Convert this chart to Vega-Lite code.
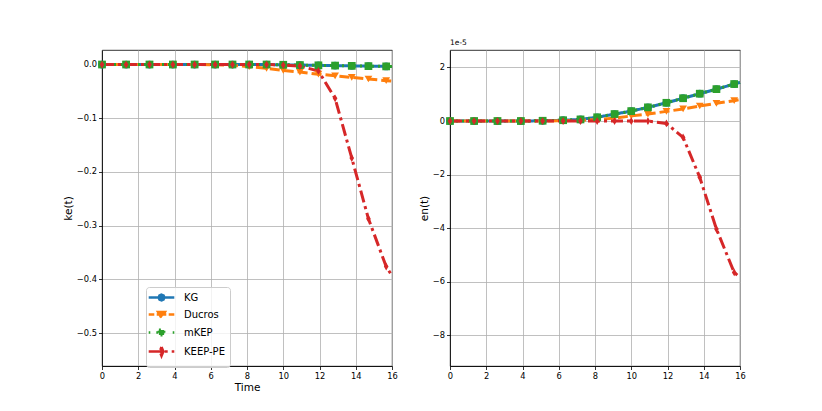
{
  "$schema": "https://vega.github.io/schema/vega-lite/v6.json",
  "background": "white",
  "padding": {"left": 62, "top": 38, "right": 5, "bottom": 5},
  "spacing": 19,
  "resolve": {"scale": {"color": "independent", "strokeDash": "independent"}, "legend": {"color": "independent", "strokeDash": "independent"}},
  "datasets": {
    "ke": [
      {"t": 0, "method": "KG", "ke": 0}, {"t": 1.33, "method": "KG", "ke": 0}, {"t": 2.62, "method": "KG", "ke": 0},
      {"t": 3.91, "method": "KG", "ke": 0}, {"t": 5.11, "method": "KG", "ke": 0}, {"t": 6.24, "method": "KG", "ke": 0},
      {"t": 7.2, "method": "KG", "ke": 0}, {"t": 8.12, "method": "KG", "ke": 0}, {"t": 9.08, "method": "KG", "ke": 0},
      {"t": 10.0, "method": "KG", "ke": -0.0005}, {"t": 10.92, "method": "KG", "ke": -0.001}, {"t": 11.94, "method": "KG", "ke": -0.0015},
      {"t": 12.86, "method": "KG", "ke": -0.002}, {"t": 13.78, "method": "KG", "ke": -0.0025}, {"t": 14.7, "method": "KG", "ke": -0.003},
      {"t": 15.68, "method": "KG", "ke": -0.0035}, {"t": 16, "method": "KG", "ke": -0.0037},
      {"t": 0, "method": "Ducros", "ke": 0}, {"t": 1.33, "method": "Ducros", "ke": 0}, {"t": 2.62, "method": "Ducros", "ke": 0},
      {"t": 3.91, "method": "Ducros", "ke": 0}, {"t": 5.11, "method": "Ducros", "ke": 0}, {"t": 6.24, "method": "Ducros", "ke": -0.0005},
      {"t": 7.2, "method": "Ducros", "ke": -0.0015}, {"t": 8.12, "method": "Ducros", "ke": -0.004}, {"t": 9.08, "method": "Ducros", "ke": -0.007},
      {"t": 10.0, "method": "Ducros", "ke": -0.011}, {"t": 10.92, "method": "Ducros", "ke": -0.014}, {"t": 11.94, "method": "Ducros", "ke": -0.018},
      {"t": 12.86, "method": "Ducros", "ke": -0.021}, {"t": 13.78, "method": "Ducros", "ke": -0.024}, {"t": 14.7, "method": "Ducros", "ke": -0.027},
      {"t": 15.68, "method": "Ducros", "ke": -0.030}, {"t": 16, "method": "Ducros", "ke": -0.031},
      {"t": 0, "method": "mKEP", "ke": 0}, {"t": 1.33, "method": "mKEP", "ke": 0}, {"t": 2.62, "method": "mKEP", "ke": 0},
      {"t": 3.91, "method": "mKEP", "ke": 0}, {"t": 5.11, "method": "mKEP", "ke": 0}, {"t": 6.24, "method": "mKEP", "ke": 0},
      {"t": 7.2, "method": "mKEP", "ke": 0}, {"t": 8.12, "method": "mKEP", "ke": 0}, {"t": 9.08, "method": "mKEP", "ke": 0},
      {"t": 10.0, "method": "mKEP", "ke": -0.0005}, {"t": 10.92, "method": "mKEP", "ke": -0.001}, {"t": 11.94, "method": "mKEP", "ke": -0.0015},
      {"t": 12.86, "method": "mKEP", "ke": -0.002}, {"t": 13.78, "method": "mKEP", "ke": -0.0025}, {"t": 14.7, "method": "mKEP", "ke": -0.003},
      {"t": 15.68, "method": "mKEP", "ke": -0.0035}, {"t": 16, "method": "mKEP", "ke": -0.0037},
      {"t": 0, "method": "KEEP-PE", "ke": 0}, {"t": 1.33, "method": "KEEP-PE", "ke": 0}, {"t": 2.62, "method": "KEEP-PE", "ke": 0},
      {"t": 3.91, "method": "KEEP-PE", "ke": 0}, {"t": 5.11, "method": "KEEP-PE", "ke": 0}, {"t": 6.24, "method": "KEEP-PE", "ke": 0},
      {"t": 7.2, "method": "KEEP-PE", "ke": 0}, {"t": 8.12, "method": "KEEP-PE", "ke": 0}, {"t": 9.08, "method": "KEEP-PE", "ke": 0},
      {"t": 10.0, "method": "KEEP-PE", "ke": -0.001}, {"t": 10.92, "method": "KEEP-PE", "ke": -0.003}, {"t": 11.94, "method": "KEEP-PE", "ke": -0.012},
      {"t": 12.86, "method": "KEEP-PE", "ke": -0.063}, {"t": 13.78, "method": "KEEP-PE", "ke": -0.174}, {"t": 14.7, "method": "KEEP-PE", "ke": -0.287},
      {"t": 15.68, "method": "KEEP-PE", "ke": -0.376}, {"t": 16, "method": "KEEP-PE", "ke": -0.393}
    ],
    "en": [
      {"t": 0, "method": "KG", "en": 0}, {"t": 1.33, "method": "KG", "en": 0}, {"t": 2.62, "method": "KG", "en": 0},
      {"t": 3.91, "method": "KG", "en": 0}, {"t": 5.11, "method": "KG", "en": 0.01e-5}, {"t": 6.24, "method": "KG", "en": 0.03e-5},
      {"t": 7.2, "method": "KG", "en": 0.06e-5}, {"t": 8.12, "method": "KG", "en": 0.14e-5}, {"t": 9.08, "method": "KG", "en": 0.26e-5},
      {"t": 10.0, "method": "KG", "en": 0.37e-5}, {"t": 10.92, "method": "KG", "en": 0.51e-5}, {"t": 11.94, "method": "KG", "en": 0.68e-5},
      {"t": 12.86, "method": "KG", "en": 0.85e-5}, {"t": 13.78, "method": "KG", "en": 1.02e-5}, {"t": 14.7, "method": "KG", "en": 1.19e-5},
      {"t": 15.68, "method": "KG", "en": 1.38e-5}, {"t": 16, "method": "KG", "en": 1.44e-5},
      {"t": 0, "method": "Ducros", "en": 0}, {"t": 1.33, "method": "Ducros", "en": 0}, {"t": 2.62, "method": "Ducros", "en": 0},
      {"t": 3.91, "method": "Ducros", "en": 0}, {"t": 5.11, "method": "Ducros", "en": 0}, {"t": 6.24, "method": "Ducros", "en": 0.01e-5},
      {"t": 7.2, "method": "Ducros", "en": 0.03e-5}, {"t": 8.12, "method": "Ducros", "en": 0.06e-5}, {"t": 9.08, "method": "Ducros", "en": 0.11e-5},
      {"t": 10.0, "method": "Ducros", "en": 0.19e-5}, {"t": 10.92, "method": "Ducros", "en": 0.26e-5}, {"t": 11.94, "method": "Ducros", "en": 0.36e-5},
      {"t": 12.86, "method": "Ducros", "en": 0.45e-5}, {"t": 13.78, "method": "Ducros", "en": 0.56e-5}, {"t": 14.7, "method": "Ducros", "en": 0.66e-5},
      {"t": 15.68, "method": "Ducros", "en": 0.76e-5}, {"t": 16, "method": "Ducros", "en": 0.8e-5},
      {"t": 0, "method": "mKEP", "en": 0}, {"t": 1.33, "method": "mKEP", "en": 0}, {"t": 2.62, "method": "mKEP", "en": 0},
      {"t": 3.91, "method": "mKEP", "en": 0}, {"t": 5.11, "method": "mKEP", "en": 0.01e-5}, {"t": 6.24, "method": "mKEP", "en": 0.03e-5},
      {"t": 7.2, "method": "mKEP", "en": 0.06e-5}, {"t": 8.12, "method": "mKEP", "en": 0.14e-5}, {"t": 9.08, "method": "mKEP", "en": 0.26e-5},
      {"t": 10.0, "method": "mKEP", "en": 0.37e-5}, {"t": 10.92, "method": "mKEP", "en": 0.51e-5}, {"t": 11.94, "method": "mKEP", "en": 0.68e-5},
      {"t": 12.86, "method": "mKEP", "en": 0.85e-5}, {"t": 13.78, "method": "mKEP", "en": 1.02e-5}, {"t": 14.7, "method": "mKEP", "en": 1.19e-5},
      {"t": 15.68, "method": "mKEP", "en": 1.38e-5}, {"t": 16, "method": "mKEP", "en": 1.44e-5},
      {"t": 0, "method": "KEEP-PE", "en": 0}, {"t": 1.33, "method": "KEEP-PE", "en": 0}, {"t": 2.62, "method": "KEEP-PE", "en": 0},
      {"t": 3.91, "method": "KEEP-PE", "en": 0}, {"t": 5.11, "method": "KEEP-PE", "en": 0}, {"t": 6.24, "method": "KEEP-PE", "en": 0},
      {"t": 7.2, "method": "KEEP-PE", "en": 0}, {"t": 8.12, "method": "KEEP-PE", "en": 0}, {"t": 9.08, "method": "KEEP-PE", "en": 0},
      {"t": 10.0, "method": "KEEP-PE", "en": 0}, {"t": 10.92, "method": "KEEP-PE", "en": 0}, {"t": 11.94, "method": "KEEP-PE", "en": -0.09e-5},
      {"t": 12.86, "method": "KEEP-PE", "en": -0.61e-5}, {"t": 13.78, "method": "KEEP-PE", "en": -2.1e-5}, {"t": 14.7, "method": "KEEP-PE", "en": -4.03e-5},
      {"t": 15.68, "method": "KEEP-PE", "en": -5.65e-5}, {"t": 16, "method": "KEEP-PE", "en": -5.84e-5}
    ]
  },
  "hconcat": [
    {
      "width": 290,
      "height": 316,
      "data": {"name": "ke"},
      "encoding": {
        "x": {
          "field": "t", "type": "quantitative", "title": "Time",
          "scale": {"domain": [0, 16], "nice": false},
          "axis": {"values": [0, 2, 4, 6, 8, 10, 12, 14, 16], "labelOverlap": false}
        },
        "y": {
          "field": "ke", "type": "quantitative", "title": "ke(t)",
          "scale": {"domain": [-0.561, 0.027], "nice": false, "zero": false},
          "axis": {"values": [-0.5, -0.4, -0.3, -0.2, -0.1, 0], "format": ".1f", "labelOverlap": false}
        },
        "color": {
          "field": "method", "type": "nominal",
          "scale": {"domain": ["KG", "Ducros", "mKEP", "KEEP-PE"], "range": ["#1f77b4", "#ff7f0e", "#2ca02c", "#d62728"]},
          "legend": {
            "orient": "none", "legendX": 44, "legendY": 237, "title": null,
            "encode": {
              "symbols": {
                "update": {
                  "shape": {"signal": "datum.value === 'KG' ? 'M-3.2,0L3.2,0M0.7,0L0.5,0.5L0,0.7L-0.5,0.5L-0.7,0L-0.5,-0.5L0,-0.7L0.5,-0.5Z' : datum.value === 'Ducros' ? 'M-3.2,0L-1.8,0M-1.2,0L1.2,0M1.8,0L3.2,0M-0.85,-0.6L0.85,-0.6L0,0.85Z' : datum.value === 'mKEP' ? 'M-3.2,0L-2.8,0M-1.3,0L1.3,0M2.8,0L3.2,0M-0.65,-0.65L0.65,-0.65L0.65,0.65L-0.65,0.65Z' : 'M-3.2,0L3.2,0M0,-1.1L0.45,0L0,1.1L-0.45,0Z'"},
                  "stroke": {"signal": "datum.value === 'KG' ? '#1f77b4' : datum.value === 'Ducros' ? '#ff7f0e' : datum.value === 'mKEP' ? '#2ca02c' : '#d62728'"},
                  "fill": {"signal": "datum.value === 'KG' ? '#1f77b4' : datum.value === 'Ducros' ? '#ff7f0e' : datum.value === 'mKEP' ? '#2ca02c' : '#d62728'"},
                  "strokeWidth": {"value": 2.6},
                  "opacity": {"value": 1},
                  "fillOpacity": {"value": 1},
                  "strokeOpacity": {"value": 1}
                }
              }
            }
          }
        }
      },
      "layer": [
        {
          "mark": {"type": "line", "strokeWidth": 3},
          "encoding": {
            "strokeDash": {
              "field": "method", "type": "nominal",
              "scale": {"domain": ["KG", "Ducros", "mKEP", "KEEP-PE"], "range": [[1, 0], [10, 4], [2, 4], [12, 4, 3, 4]]},
              "legend": null
            }
          }
        },
        {
          "transform": [{"filter": "datum.method === 'KG' && datum.t < 16"}],
          "mark": {"type": "point", "shape": "circle", "filled": true, "size": 60, "opacity": 1}
        },
        {
          "transform": [{"filter": "datum.method === 'Ducros' && datum.t < 16"}],
          "mark": {"type": "point", "shape": "triangle-down", "filled": true, "size": 60, "opacity": 1}
        },
        {
          "transform": [{"filter": "datum.method === 'mKEP' && datum.t < 16"}],
          "mark": {"type": "point", "shape": "square", "filled": true, "size": 60, "opacity": 1}
        },
        {
          "transform": [{"filter": "datum.method === 'KEEP-PE' && datum.t < 16"}],
          "mark": {"type": "point", "shape": "M0,-1L0.6,0L0,1L-0.6,0Z", "filled": true, "size": 60, "opacity": 1}
        }
      ]
    },
    {
      "width": 290,
      "height": 316,
      "layer": [
        {
          "data": {"name": "en"},
          "encoding": {
            "x": {
              "field": "t", "type": "quantitative", "title": null,
              "scale": {"domain": [0, 16], "nice": false},
              "axis": {"values": [0, 2, 4, 6, 8, 10, 12, 14, 16], "labelOverlap": false}
            },
            "y": {
              "field": "en", "type": "quantitative", "title": "en(t)",
              "scale": {"domain": [-9.14e-5, 2.65e-5], "nice": false, "zero": false},
              "axis": {"values": [-8e-5, -6e-5, -4e-5, -2e-5, 0, 2e-5], "labelExpr": "format(datum.value * 100000, '.0f')", "labelOverlap": false}
            },
            "color": {
              "field": "method", "type": "nominal",
              "scale": {"domain": ["KG", "Ducros", "mKEP", "KEEP-PE"], "range": ["#1f77b4", "#ff7f0e", "#2ca02c", "#d62728"]},
              "legend": null
            }
          },
          "layer": [
            {
              "mark": {"type": "line", "strokeWidth": 3},
              "encoding": {
                "strokeDash": {
                  "field": "method", "type": "nominal",
                  "scale": {"domain": ["KG", "Ducros", "mKEP", "KEEP-PE"], "range": [[1, 0], [10, 4], [2, 4], [12, 4, 3, 4]]},
                  "legend": null
                }
              }
            },
            {
              "transform": [{"filter": "datum.method === 'KG' && datum.t < 16"}],
              "mark": {"type": "point", "shape": "circle", "filled": true, "size": 60, "opacity": 1}
            },
            {
              "transform": [{"filter": "datum.method === 'Ducros' && datum.t < 16"}],
              "mark": {"type": "point", "shape": "triangle-down", "filled": true, "size": 60, "opacity": 1}
            },
            {
              "transform": [{"filter": "datum.method === 'mKEP' && datum.t < 16"}],
              "mark": {"type": "point", "shape": "square", "filled": true, "size": 60, "opacity": 1}
            },
            {
              "transform": [{"filter": "datum.method === 'KEEP-PE' && datum.t < 16"}],
              "mark": {"type": "point", "shape": "M0,-1L0.6,0L0,1L-0.6,0Z", "filled": true, "size": 60, "opacity": 1}
            }
          ]
        },
        {
          "data": {"values": [{}]},
          "mark": {"type": "text", "align": "left", "baseline": "bottom", "dy": -3, "fontSize": 7.5, "font": "DejaVu Sans"},
          "encoding": {
            "x": {
              "datum": 0, "type": "quantitative", "title": null,
              "scale": {"domain": [0, 16], "nice": false},
              "axis": {"values": [0, 2, 4, 6, 8, 10, 12, 14, 16], "labelOverlap": false}
            },
            "y": {
              "datum": 2.65e-5, "type": "quantitative", "title": "en(t)",
              "scale": {"domain": [-9.14e-5, 2.65e-5], "nice": false, "zero": false},
              "axis": {"values": [-8e-5, -6e-5, -4e-5, -2e-5, 0, 2e-5], "labelExpr": "format(datum.value * 100000, '.0f')", "labelOverlap": false}
            },
            "text": {"value": "1e-5"}
          }
        }
      ]
    }
  ],
  "config": {
    "font": "DejaVu Sans",
    "view": {"stroke": "#000000", "strokeWidth": 0.8},
    "axis": {
      "grid": true,
      "gridColor": "#b0b0b0",
      "gridWidth": 0.8,
      "domainColor": "#000000",
      "domainWidth": 0.8,
      "tickColor": "#000000",
      "tickSize": 3.5,
      "tickWidth": 0.8,
      "labelFont": "DejaVu Sans",
      "labelFontSize": 8.3,
      "labelColor": "#000000",
      "labelPadding": 2,
      "labelFlush": false,
      "labelOverlap": false,
      "titleFont": "DejaVu Sans",
      "titleFontSize": 10.5,
      "titleFontWeight": "normal",
      "titleColor": "#000000",
      "titlePadding": 3
    },
    "legend": {
      "labelFont": "DejaVu Sans",
      "labelFontSize": 10,
      "labelColor": "#000000",
      "strokeColor": "#cccccc",
      "fillColor": "rgba(255,255,255,0.8)",
      "cornerRadius": 3,
      "padding": 5,
      "rowPadding": 0,
      "symbolSize": 64,
      "symbolOffset": 5,
      "labelOffset": 17
    }
  }
}
